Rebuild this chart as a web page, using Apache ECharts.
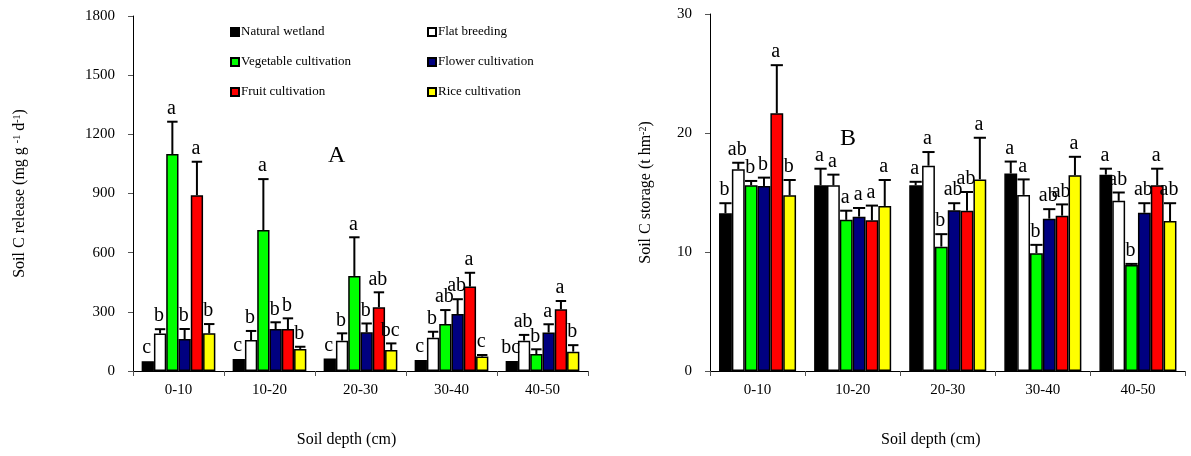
<!DOCTYPE html>
<html>
<head>
<meta charset="utf-8">
<script src="https://cdn.jsdelivr.net/npm/echarts@6/dist/echarts.min.js"></script>
<style>
html,body{margin:0;padding:0;background:#fff;}
#chart{width:1191px;height:456px;}
</style>
</head>
<body>
<div id="chart"></div>
<script>
// ---------- data ----------
const categories = ['0-10', '10-20', '20-30', '30-40', '40-50'];
const seriesNames = ['Natural wetland', 'Flat breeding', 'Vegetable cultivation', 'Flower cultivation', 'Fruit cultivation', 'Rice cultivation'];
const seriesColors = ['#000000', '#ffffff', '#00ff00', '#000080', '#ff0000', '#ffff00'];

// Panel A: Soil C release (mg g-1 d-1)
const releaseWetland    = [50, 61, 64, 56, 51];
const releaseFlat       = [190, 157, 154, 169, 154];
const releaseVegetable  = [1100, 715, 482, 238, 86];
const releaseFlower     = [162, 213, 196, 289, 195];
const releaseFruit      = [891, 213, 323, 428, 313];
const releaseRice       = [191, 112, 106, 73, 98];
const releaseErrWetland   = [0, 0, 0, 0, 0];
const releaseErrFlat      = [22, 46, 37, 30, 29];
const releaseErrVegetable = [164, 258, 196, 71, 24];
const releaseErrFlower    = [51, 34, 45, 75, 42];
const releaseErrFruit     = [170, 54, 76, 70, 42];
const releaseErrRice      = [47, 11, 34, 8, 33];
const releaseLetters = [
  ['c', 'b', 'a', 'b', 'a', 'b'],
  ['c', 'b', 'a', 'b', 'b', 'b'],
  ['c', 'b', 'a', 'b', 'ab', 'bc'],
  ['c', 'b', 'ab', 'ab', 'a', 'c'],
  ['bc', 'ab', 'b', 'a', 'a', 'b']
];
const releaseTicks = [0, 300, 600, 900, 1200, 1500, 1800];

// Panel B: Soil C storage (t hm-2)
const storageWetland    = [13.25, 15.6, 15.6, 16.6, 16.5];
const storageFlat       = [16.95, 15.6, 17.25, 14.8, 14.3];
const storageVegetable  = [15.6, 12.7, 10.45, 9.9, 8.9];
const storageFlower     = [15.55, 12.97, 13.5, 12.8, 13.3];
const storageFruit      = [21.65, 12.66, 13.47, 13.05, 15.6];
const storageRice       = [14.76, 13.87, 16.1, 16.45, 12.6];
const storageErrWetland   = [0.85, 1.4, 0.3, 1.0, 0.5];
const storageErrFlat      = [0.55, 0.9, 1.15, 1.3, 0.7];
const storageErrVegetable = [0.37, 0.77, 1.05, 0.7, 0.1];
const storageErrFlower    = [0.7, 0.73, 0.6, 0.8, 0.8];
const storageErrFruit     = [4.05, 1.24, 1.57, 0.95, 1.4];
const storageErrRice      = [1.29, 2.18, 3.5, 1.55, 1.5];
const storageLetters = [
  ['b', 'ab', 'b', 'b', 'a', 'b'],
  ['a', 'a', 'a', 'a', 'a', 'a'],
  ['a', 'a', 'b', 'ab', 'ab', 'a'],
  ['a', 'a', 'b', 'ab', 'ab', 'a'],
  ['a', 'ab', 'b', 'ab', 'a', 'ab']
];
const storageTicks = [0, 10, 20, 30];

// ---------- build ----------
const FONT = '"Liberation Serif", "Times New Roman", serif';
const CAT_GAP = 0.19;

const releaseMeans = [releaseWetland, releaseFlat, releaseVegetable, releaseFlower, releaseFruit, releaseRice];
const releaseErrs = [releaseErrWetland, releaseErrFlat, releaseErrVegetable, releaseErrFlower, releaseErrFruit, releaseErrRice];
const storageMeans = [storageWetland, storageFlat, storageVegetable, storageFlower, storageFruit, storageRice];
const storageErrs = [storageErrWetland, storageErrFlat, storageErrVegetable, storageErrFlower, storageErrFruit, storageErrRice];

function barSeries(means, axisIdx) {
  return means.map((vals, i) => ({
    name: seriesNames[i],
    type: 'bar',
    xAxisIndex: axisIdx,
    yAxisIndex: axisIdx,
    data: vals,
    barGap: '0%',
    barCategoryGap: (CAT_GAP * 100) + '%',
    itemStyle: { color: seriesColors[i], borderColor: '#000', borderWidth: 1.5 },
    emphasis: { disabled: true },
    z: 2
  }));
}

function errSeries(means, errs, letters, axisIdx, capRatio) {
  const data = [];
  const labels = [];
  for (let c = 0; c < categories.length; c++) {
    for (let s = 0; s < means.length; s++) {
      data.push([c, s, means[s][c], means[s][c] + errs[s][c]]);
      labels.push(letters[c][s]);
    }
  }
  return {
    type: 'custom',
    xAxisIndex: axisIdx,
    yAxisIndex: axisIdx,
    data: data,
    encode: { x: 0, y: [2, 3] },
    z: 5,
    silent: true,
    renderItem: function (params, api) {
      const c = api.value(0), s = api.value(1), m = api.value(2), t = api.value(3);
      const band = api.size([1, 0])[0];
      const usable = band * (1 - CAT_GAP);
      const bw = usable / means.length;
      const cx = api.coord([c, 0])[0];
      const x = cx - usable / 2 + (s + 0.5) * bw;
      const ym = api.coord([c, m])[1];
      const yt = api.coord([c, t])[1];
      const cap = bw * capRatio / 2;
      const children = [];
      if (t > m) {
        children.push({ type: 'line', shape: { x1: x, y1: ym, x2: x, y2: yt }, style: { stroke: '#000', lineWidth: 2 } });
        children.push({ type: 'line', shape: { x1: x - cap, y1: yt, x2: x + cap, y2: yt }, style: { stroke: '#000', lineWidth: 2 } });
      }
      children.push({
        type: 'text',
        style: {
          text: labels[params.dataIndex], x: x - 1, y: yt - 3,
          align: 'center', verticalAlign: 'bottom',
          font: '20px ' + FONT, fill: '#000'
        }
      });
      return { type: 'group', children: children };
    }
  };
}

function xAxis(gridIdx, padRight) {
  return {
    type: 'category',
    gridIndex: gridIdx,
    data: categories,
    name: 'Soil depth (cm)',
    nameLocation: 'middle',
    nameGap: 61,
    nameTextStyle: { fontFamily: FONT, fontSize: 16, color: '#000', padding: [0, padRight, 0, 0] },
    axisLine: { show: true, lineStyle: { color: '#000', width: 1 } },
    axisTick: { show: true, length: 5, lineStyle: { color: '#555' } },
    axisLabel: { fontFamily: FONT, fontSize: 15, color: '#000', margin: 12 },
    splitLine: { show: false }
  };
}

function yAxis(gridIdx, ticks, name, nameGap) {
  return {
    type: 'value',
    gridIndex: gridIdx,
    min: ticks[0],
    max: ticks[ticks.length - 1],
    interval: ticks[1] - ticks[0],
    name: name,
    nameLocation: 'middle',
    nameGap: nameGap,
    nameTextStyle: {
      fontFamily: FONT, fontSize: 16, color: '#000',
      rich: { s: { fontFamily: FONT, fontSize: 10, verticalAlign: 'top', color: '#000' } }
    },
    axisLine: { show: true, lineStyle: { color: '#000', width: 1 } },
    axisTick: { show: true, length: 5, lineStyle: { color: '#555' } },
    axisLabel: { fontFamily: FONT, fontSize: 15, color: '#000', margin: 18, formatter: function (v) { return String(v); } },
    splitLine: { show: false }
  };
}

const legendBase = {
  orient: 'vertical',
  icon: 'rect',
  itemWidth: 8,
  itemHeight: 8,
  itemGap: 16,
  padding: 0,
  selectedMode: false,
  textStyle: { fontFamily: FONT, fontSize: 13, color: '#000', lineHeight: 14, padding: [0, 0, 0, -3] }
};

const option = {
  animation: false,
  backgroundColor: '#fff',
  grid: [
    { left: 133, top: 16, width: 455, height: 355 },
    { left: 710, top: 14, width: 475.5, height: 357 }
  ],
  legend: [
    Object.assign({}, legendBase, { left: 230, top: 25, data: [seriesNames[0], seriesNames[2], seriesNames[4]] }),
    Object.assign({}, legendBase, { left: 427, top: 25, data: [seriesNames[1], seriesNames[3], seriesNames[5]] })
  ],
  xAxis: [xAxis(0, 28), xAxis(1, 34)],
  yAxis: [
    yAxis(0, releaseTicks, 'Soil C release (mg g {s|-1} d{s|-1})', 105),
    yAxis(1, storageTicks, 'Soil C storage (t hm{s|-2})', 56)
  ],
  graphic: [
    { type: 'text', left: 328, top: 144, style: { text: 'A', font: '24px ' + FONT, fill: '#000' } },
    { type: 'text', left: 840, top: 127, style: { text: 'B', font: '24px ' + FONT, fill: '#000' } }
  ],
  series: [].concat(
    barSeries(releaseMeans, 0),
    barSeries(storageMeans, 1),
    [errSeries(releaseMeans, releaseErrs, releaseLetters, 0, 0.85),
     errSeries(storageMeans, storageErrs, storageLetters, 1, 0.95)]
  )
};

const chart = echarts.init(document.getElementById('chart'), null, { renderer: 'canvas' });
chart.setOption(option);
</script>
</body>
</html>
